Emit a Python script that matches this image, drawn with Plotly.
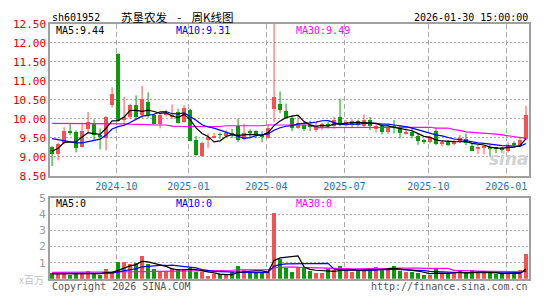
import plotly.graph_objects as go
import pandas as pd

W, H = 545, 300

# ---------------- data (weekly candles, 80 weeks ending 2026-01-30) ----------------
opens = [9.26, 9.09, 9.37, 9.70, 9.66, 9.28, 9.74, 9.91, 9.58, 9.51,
         10.38, 11.70, 9.98, 10.06, 10.37, 10.10, 10.45, 10.12, 9.87, 10.11,
         10.07, 10.18, 9.92, 10.24, 9.46, 9.04, 9.45, 9.51, 9.61, 9.57,
         9.62, 9.82, 9.47, 9.70, 9.68, 9.59, 9.51, 10.28, 10.39, 10.22,
         10.02, 9.78, 9.84, 9.84, 9.72, 9.79, 9.88, 9.82, 10.06, 9.84,
         9.85, 9.95, 9.82, 9.97, 9.75, 9.81, 9.67, 9.82, 9.78, 9.62,
         9.67, 9.56, 9.45, 9.39, 9.70, 9.34, 9.41, 9.35, 9.41, 9.49,
         9.30, 9.24, 9.25, 9.26, 9.25, 9.24, 9.16, 9.35, 9.31, 9.48]
highs = [9.28, 9.37, 9.78, 9.87, 9.70, 9.90, 10.18, 9.99, 9.75, 10.07,
         10.83, 11.72, 10.58, 10.40, 10.62, 10.87, 10.70, 10.15, 10.15, 10.24,
         10.38, 10.27, 10.36, 10.27, 9.55, 9.40, 9.62, 9.63, 9.64, 9.70,
         9.74, 10.00, 9.87, 9.73, 9.70, 9.68, 9.84, 12.55, 10.72, 10.40,
         10.09, 10.09, 9.92, 9.95, 9.90, 9.90, 9.92, 10.06, 10.53, 9.97,
         9.99, 9.98, 10.12, 10.05, 9.87, 9.84, 9.83, 9.97, 9.83, 9.78,
         9.74, 9.62, 9.48, 9.56, 9.76, 9.45, 9.45, 9.46, 9.58, 9.62,
         9.34, 9.32, 9.31, 9.32, 9.27, 9.26, 9.39, 9.41, 9.53, 10.34]
lows = [8.76, 8.91, 9.33, 9.57, 9.12, 9.25, 9.65, 9.45, 9.20, 9.17,
        10.30, 9.93, 9.80, 10.00, 10.00, 10.02, 10.03, 9.85, 9.75, 10.06,
        10.00, 9.88, 9.90, 9.42, 9.03, 9.00, 9.24, 9.49, 9.48, 9.53,
        9.49, 9.39, 9.43, 9.49, 9.49, 9.39, 9.48, 9.91, 10.15, 10.00,
        9.68, 9.74, 9.68, 9.68, 9.66, 9.70, 9.75, 9.74, 9.80, 9.80,
        9.78, 9.80, 9.78, 9.70, 9.64, 9.59, 9.60, 9.62, 9.49, 9.59,
        9.49, 9.32, 9.34, 9.35, 9.31, 9.28, 9.28, 9.30, 9.37, 9.31,
        9.16, 9.08, 9.07, 9.01, 9.10, 9.10, 9.12, 9.27, 9.28, 9.45]
closes = [9.09, 9.34, 9.70, 9.63, 9.24, 9.70, 9.92, 9.58, 9.52, 10.05,
          10.67, 9.96, 10.05, 10.37, 10.07, 10.53, 10.12, 9.88, 10.12, 10.16,
          10.10, 9.91, 10.30, 9.44, 9.06, 9.37, 9.53, 9.57, 9.59, 9.63,
          9.60, 9.45, 9.64, 9.65, 9.58, 9.54, 9.78, 10.57, 10.24, 10.02,
          9.76, 9.89, 9.73, 9.82, 9.82, 9.88, 9.81, 9.99, 9.84, 9.92,
          9.95, 9.84, 9.97, 9.81, 9.83, 9.67, 9.80, 9.77, 9.64, 9.67,
          9.56, 9.42, 9.41, 9.52, 9.34, 9.41, 9.33, 9.41, 9.51, 9.37,
          9.17, 9.25, 9.27, 9.24, 9.23, 9.18, 9.31, 9.33, 9.45, 10.12]
volumes = [0.34, 0.30, 0.39, 0.24, 0.26, 0.34, 0.45, 0.34, 0.24, 0.59,
           0.39, 1.05, 1.05, 0.93, 0.99, 1.42, 0.89, 0.59, 0.49, 0.49,
           0.65, 0.59, 0.59, 0.65, 0.39, 0.39, 0.14, 0.26, 0.26, 0.26,
           0.39, 0.79, 0.53, 0.39, 0.39, 0.39, 0.39, 4.10, 1.22, 0.65,
           0.43, 0.73, 0.65, 0.49, 0.37, 0.34, 0.57, 0.53, 0.77, 0.53,
           0.43, 0.45, 0.53, 0.69, 0.73, 0.53, 0.53, 0.77, 0.49, 0.39,
           0.43, 0.34, 0.24, 0.20, 0.59, 0.34, 0.34, 0.34, 0.45, 0.39,
           0.53, 0.34, 0.34, 0.39, 0.30, 0.26, 0.37, 0.34, 0.53, 1.54]

ma5_head = [9.15, 9.23, 9.38, 9.39]
ma10_head = [9.48, 9.45, 9.41, 9.38, 9.37, 9.37, 9.40, 9.44, 9.47]
ma30_line = [9.88, 9.88, 9.88, 9.88, 9.88, 9.88, 9.88, 9.87, 9.87, 9.87,
             9.87, 9.87, 9.87, 9.86, 9.86, 9.85, 9.85, 9.84, 9.84, 9.84,
             9.81, 9.80, 9.80, 9.80, 9.80, 9.80, 9.80, 9.80, 9.80, 9.82,
             9.82, 9.82, 9.82, 9.82, 9.82, 9.82, 9.84, 9.84, 9.84, 9.84,
             9.84, 9.84, 9.84, 9.84, 9.77, 9.77, 9.77, 9.77, 9.77, 9.77,
             9.77, 9.77, 9.78, 9.78, 9.78, 9.78, 9.78, 9.78, 9.78, 9.78,
             9.78, 9.78, 9.78, 9.78, 9.76, 9.76, 9.76, 9.72, 9.70, 9.66,
             9.65, 9.64, 9.63, 9.61, 9.60, 9.58, 9.56, 9.54, 9.52, 9.49]
vma5_head = [0.30, 0.30, 0.31, 0.30]
vma10_head = [0.33, 0.33, 0.33, 0.33, 0.33, 0.33, 0.34, 0.34, 0.34]
vma30_head = [0.40, 0.40, 0.40, 0.40, 0.40, 0.40, 0.41, 0.41, 0.41, 0.42,
              0.42, 0.43, 0.43, 0.44, 0.44, 0.45, 0.45, 0.46, 0.46, 0.47,
              0.47, 0.48, 0.48, 0.49, 0.49, 0.50, 0.50, 0.51, 0.52]

tick_labels = ["2024-10", "2025-01", "2025-04", "2025-07", "2025-10", "2026-01"]
tick_weeks = [11, 23, 36, 49, 63, 76]   # first weekly bar of each labelled month

header_code = "sh601952"
header_title = "苏垦农发\u00a0\u00a0\u00a0\u00a0-\u00a0\u00a0\u00a0\u00a0周K线图"
header_time = "2026-01-30 15:00:00"
ma_labels = ["MA5:9.44", "MA10:9.31", "MA30:9.49"]
vma_labels = ["MA5:0", "MA10:0", "MA30:0"]

# ---------------- derived ----------------
n = len(closes)
idx = list(range(n))


def moving(vals, win, head):
    s = pd.Series(vals).rolling(win).mean().tolist()
    return list(head) + s[len(head):]


ma5 = moving(closes, 5, ma5_head)
ma10 = moving(closes, 10, ma10_head)
vma5 = moving(volumes, 5, vma5_head)
vma10 = moving(volumes, 10, vma10_head)
vma30 = moving(volumes, 30, vma30_head)

RED = "#f45252"
GREEN = "#0a9a0a"
up = [c >= o for o, c in zip(opens, closes)]
colors = [RED if u else GREEN for u in up]

MONO = "DejaVu Sans Mono"


def px(x):
    return x / W


def py(y):
    return 1 - y / H


fig = go.Figure()

# wicks
for flag, col in [(True, RED), (False, GREEN)]:
    wx, wy = [], []
    for i in idx:
        if up[i] == flag:
            wx += [i, i, None]
            wy += [lows[i], highs[i], None]
    fig.add_trace(go.Scatter(x=wx, y=wy, mode="lines", line=dict(color=col, width=1),
                             xaxis="x", yaxis="y", showlegend=False, hoverinfo="skip"))

# bodies
body_base = [min(o, c) for o, c in zip(opens, closes)]
body_h = [max(abs(c - o), 0.012) for o, c in zip(opens, closes)]
fig.add_trace(go.Bar(x=idx, y=body_h, base=body_base, width=0.72,
                     marker=dict(color=colors, line=dict(width=0)),
                     xaxis="x", yaxis="y", showlegend=False, hoverinfo="skip"))

for vals, col in [(ma30_line, "#ff00ff"), (ma10, "#0000ff"), (ma5, "#000000")]:
    fig.add_trace(go.Scatter(x=idx, y=vals, mode="lines", line=dict(color=col, width=1.2),
                             xaxis="x", yaxis="y", showlegend=False, hoverinfo="skip"))

fig.add_trace(go.Bar(x=idx, y=volumes, marker=dict(color=colors, line=dict(width=0)),
                     width=0.75, xaxis="x2", yaxis="y2", showlegend=False, hoverinfo="skip"))

for vals, col in [(vma30, "#ff00ff"), (vma10, "#0000ff"), (vma5, "#000000")]:
    fig.add_trace(go.Scatter(x=idx, y=vals, mode="lines", line=dict(color=col, width=1.2),
                             xaxis="x2", yaxis="y2", showlegend=False, hoverinfo="skip"))

xdom = [px(50), px(529)]
xrange_ = [-0.35, n - 0.5]
tickpos = [t - 0.28 for t in tick_weeks]
grid_v = dict(showgrid=True, gridcolor="#ababab", gridwidth=1, griddash="5px,3px")
frame = dict(showline=True, mirror=True, linecolor="#a0a0a0", linewidth=1.5, zeroline=False)

fig.update_layout(
    width=W, height=H, margin=dict(l=0, r=0, t=0, b=0),
    paper_bgcolor="white", plot_bgcolor="white",
    bargap=0, barmode="overlay",
    xaxis=dict(domain=xdom, range=xrange_, anchor="y", tickmode="array",
               tickvals=tickpos, ticktext=tick_labels, ticks="", ticklen=0,
               tickfont=dict(family=MONO, size=10, color="#1677c6"),
               **grid_v, **frame),
    yaxis=dict(domain=[py(177.7), py(18.5)], range=[8.5, 12.5], anchor="x",
               tickmode="array", tickvals=[8.5 + 0.5 * k for k in range(9)],
               tickformat=".2f", ticks="", ticklen=0,
               tickfont=dict(family=MONO, size=11, color="#e60000"),
               showgrid=True, gridcolor="#ababab", gridwidth=1, griddash="2px,2px",
               **frame),
    xaxis2=dict(domain=xdom, range=xrange_, anchor="y2", tickmode="array",
                tickvals=tickpos, showticklabels=False, ticks="", **grid_v, **frame),
    yaxis2=dict(domain=[py(285.2), py(200.9)], range=[0, 5], anchor="x2",
                tickmode="array", tickvals=[1, 2, 3, 4, 5], ticks="", ticklen=0,
                tickfont=dict(family="DejaVu Sans", size=11, color="#9a9a9a"),
                showgrid=True, gridcolor="#ababab", gridwidth=1, griddash="2px,2px",
                **frame),
)

ann = []


def text(x, y, s, color="#000", size=10, anchor="left", family=MONO, **kw):
    ann.append(dict(x=px(x), y=py(y), xref="paper", yref="paper", text=s, showarrow=False,
                    xanchor=anchor, yanchor="middle",
                    font=dict(family=family, size=size, color=color), **kw))


text(50, 12, header_code, size=10)
text(119, 11, header_title, size=11.5, family="Noto Sans CJK SC")
text(530, 12, header_time, anchor="right", size=10)

ma_cols = ["#000000", "#0000ff", "#ff00ff"]
for s, xx, c in zip(ma_labels, [54, 174, 294], ma_cols):
    text(xx, 25.5, s, color=c)
for s, xx, c in zip(vma_labels, [54, 174, 294], ma_cols):
    text(xx, 206, s, color=c)

text(46, 286, "x百万", color="#c4c4c4", size=10, anchor="right", family="Noto Sans CJK SC")
text(50, 293, "Copyright 2026 SINA.COM", color="#555", size=10)
text(530, 293, "http://finance.sina.com.cn", color="#555", size=10, anchor="right")
text(509, 160, "<b><i>sina</i></b>", color="#d2d2d2", size=17, anchor="center",
     family="DejaVu Sans")

fig.update_layout(annotations=ann)

fig.write_html("out.html")
